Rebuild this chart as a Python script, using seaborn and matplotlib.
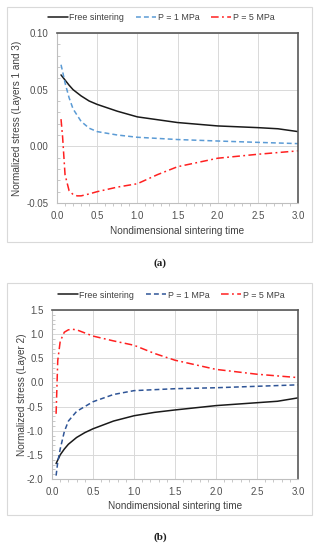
import matplotlib
matplotlib.use("Agg")
import matplotlib.pyplot as plt
import seaborn as sns
import pandas as pd
from matplotlib.patches import Rectangle
from matplotlib.ticker import MultipleLocator, FormatStrFormatter

# ---------------- data ----------------
series_labels = ["Free sintering", "P = 1 MPa", "P = 5 MPa"]

t_free_a = [0.05, 0.1, 0.15, 0.2, 0.3, 0.4, 0.5, 0.75, 1.0, 1.25, 1.5, 2.0, 2.5, 2.75, 3.0]
free_a = [0.063, 0.0585, 0.054, 0.050, 0.0445, 0.040, 0.037, 0.031, 0.026, 0.0235, 0.021, 0.018, 0.0165, 0.0155, 0.013]
t_p1_a = [0.05, 0.07, 0.1, 0.15, 0.2, 0.3, 0.4, 0.5, 0.75, 1.0, 1.5, 2.0, 2.5, 3.0]
p1_a = [0.072, 0.066, 0.056, 0.043, 0.033, 0.022, 0.016, 0.013, 0.010, 0.008, 0.006, 0.0047, 0.0035, 0.0024]
t_p5_a = [0.05, 0.07, 0.1, 0.15, 0.2, 0.25, 0.3, 0.4, 0.5, 0.75, 1.0, 1.25, 1.5, 2.0, 2.5, 3.0]
p5_a = [0.024, 0.008, -0.025, -0.039, -0.0425, -0.0437, -0.0437, -0.042, -0.040, -0.036, -0.033, -0.025, -0.018, -0.0105, -0.007, -0.004]

t_free_b = [0.05, 0.1, 0.15, 0.2, 0.3, 0.4, 0.5, 0.75, 1.0, 1.25, 1.5, 2.0, 2.5, 2.75, 3.0]
free_b = [-1.68, -1.50, -1.38, -1.28, -1.14, -1.04, -0.96, -0.80, -0.69, -0.62, -0.57, -0.48, -0.42, -0.39, -0.32]
t_p1_b = [0.05, 0.07, 0.1, 0.15, 0.2, 0.3, 0.5, 0.75, 1.0, 1.5, 2.0, 2.5, 3.0]
p1_b = [-1.93, -1.65, -1.38, -1.02, -0.80, -0.60, -0.40, -0.25, -0.17, -0.13, -0.11, -0.08, -0.05]
t_p5_b = [0.05, 0.06, 0.07, 0.1, 0.15, 0.2, 0.25, 0.3, 0.5, 0.75, 1.0, 1.25, 1.5, 2.0, 2.5, 3.0]
p5_b = [-0.65, -0.10, 0.45, 0.85, 1.04, 1.09, 1.10, 1.09, 0.96, 0.86, 0.77, 0.60, 0.46, 0.27, 0.17, 0.10]

xlabel = "Nondimensional sintering time"
ylabel_a = "Normalized stress (Layers 1 and 3)"
ylabel_b = "Normalized stress (Layer 2)"

# ---------------- style ----------------
sns.set_theme(style="white")
plt.rcParams["font.family"] = ["Liberation Sans", "DejaVu Sans"]

W, H = 319, 550
fig = plt.figure(figsize=(W / 100, H / 100), dpi=100)

def fx(px):
    return px / W

def fy(py):
    return 1 - py / H

# panel boxes
for (x0, y0, x1, y1) in [(7, 7, 312, 242), (7, 283, 312, 515)]:
    fig.patches.append(Rectangle((fx(x0), fy(y1)), fx(x1) - fx(x0), fy(y0) - fy(y1),
                                 transform=fig.transFigure, fill=False,
                                 edgecolor="#d9d9d9", linewidth=0.8))

ax_a = fig.add_axes([fx(57), fy(203), fx(298) - fx(57), fy(33) - fy(203)])
ax_b = fig.add_axes([fx(52), fy(479), fx(298) - fx(52), fy(310) - fy(479)])

red = "#ff2020"
dashdot = (0, (5, 2.2, 1.2, 2.2))
dashed = (0, (3.2, 2))

def draw(ax, sets, colors, styles):
    handles = []
    for (t, v), lab, c, ls in zip(sets, series_labels, colors, styles):
        df = pd.DataFrame({"t": t, "v": v})
        sns.lineplot(data=df, x="t", y="v", ax=ax, color=c, linewidth=1.1,
                     label=lab, legend=False)
        line = ax.lines[-1]
        line.set_linestyle(ls)
        handles.append(line)
    return handles

h_a = draw(ax_a, [(t_free_a, free_a), (t_p1_a, p1_a), (t_p5_a, p5_a)],
           ["#1a1a1a", "#5b9bd5", red], ["-", dashed, dashdot])
h_b = draw(ax_b, [(t_free_b, free_b), (t_p1_b, p1_b), (t_p5_b, p5_b)],
           ["#1a1a1a", "#2f5597", red], ["-", dashed, dashdot])

def style(ax, ylim, ymaj, ymin, fmt, ylabel, ylab_x):
    ax.set_xlim(0, 3.0)
    ax.set_ylim(*ylim)
    ax.xaxis.set_major_locator(MultipleLocator(0.5))
    ax.xaxis.set_minor_locator(MultipleLocator(0.1))
    ax.yaxis.set_major_locator(MultipleLocator(ymaj))
    ax.yaxis.set_minor_locator(MultipleLocator(ymin))
    ax.xaxis.set_major_formatter(FormatStrFormatter("%.1f"))
    ax.yaxis.set_major_formatter(FormatStrFormatter(fmt))
    ax.grid(True, which="major", color="#d9d9d9", linewidth=0.7)
    ax.set_axisbelow(True)
    for s in ["left", "bottom"]:
        ax.spines[s].set_color("#bfbfbf")
        ax.spines[s].set_linewidth(0.8)
    for s in ["top", "right"]:
        ax.spines[s].set_color("#595959")
        ax.spines[s].set_linewidth(1.2)
    ax.tick_params(which="major", length=0, labelsize=7, colors="#505050", pad=6)
    ax.tick_params(which="minor", length=2, width=0.6, color="#bfbfbf",
                   direction="out", left=True, bottom=True)
    ax.tick_params(axis="y", which="minor", direction="in")
    ax.set_xlabel(xlabel, fontsize=7.2, color="#404040", labelpad=3)
    ax.set_ylabel(ylabel, fontsize=7.2, color="#404040")
    ax.yaxis.set_label_coords(ylab_x, 0.5)

style(ax_a, (-0.05, 0.10), 0.05, 0.01, "%.2f", ylabel_a, -0.145)
style(ax_b, (-2.0, 1.5), 0.5, 0.1, "%.1f", ylabel_b, -0.10)

for h, cx, cy in [(h_a, 161, 18), (h_b, 171, 295)]:
    fig.legend(handles=h, labels=series_labels, loc="center",
               bbox_to_anchor=(fx(cx), fy(cy)), ncol=3, frameon=False,
               fontsize=6.4, handlelength=2.3, columnspacing=1.3, handletextpad=0.15,
               labelcolor="#404040")

fig.text(fx(160), fy(263), "(a)", ha="center", va="center", fontsize=8,
         family=["Liberation Serif"], fontweight="bold", color="#202020")
fig.text(fx(160), fy(537), "(b)", ha="center", va="center", fontsize=8,
         family=["Liberation Serif"], fontweight="bold", color="#202020")

fig.savefig("out.png", dpi=100, facecolor="white")
